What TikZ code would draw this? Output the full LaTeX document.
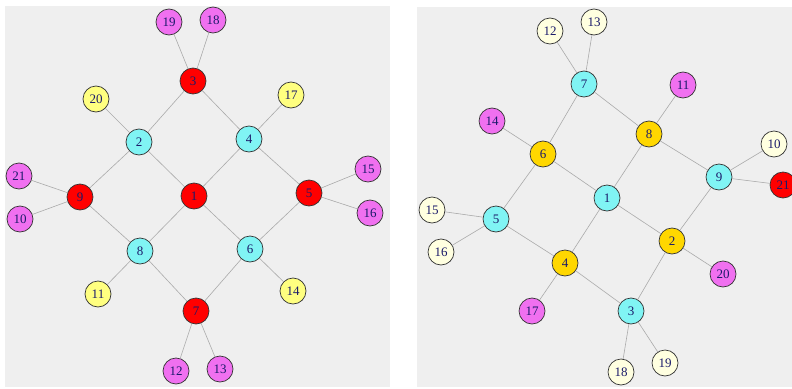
\documentclass[tikz,border=0pt]{standalone}
\usepackage{fontspec}
\setmainfont{Liberation Serif}
\definecolor{bg}{HTML}{EFEFEF}
\definecolor{cred}{HTML}{FF0000}
\definecolor{ccyan}{HTML}{80F4F4}
\definecolor{cmag}{HTML}{F070F0}
\definecolor{cyel}{HTML}{FFFF80}
\definecolor{cgold}{HTML}{FFD700}
\definecolor{civ}{HTML}{FFFFE0}
\definecolor{edgec}{HTML}{AAAAAA}
\definecolor{txt}{HTML}{1A1A6A}
\begin{document}
\begin{tikzpicture}[x=1pt,y=-1pt,
  vert/.style={circle,draw=black!80,line width=0.7pt,minimum size=26pt,inner sep=0pt,text=txt,font=\fontsize{13}{14}\selectfont},
  rd/.style={vert,fill=cred},
  cy/.style={vert,fill=ccyan},
  mg/.style={vert,fill=cmag},
  yl/.style={vert,fill=cyel},
  gd/.style={vert,fill=cgold},
  iv/.style={vert,fill=civ},
  edge/.style={draw=edgec,line width=0.6pt}]
\useasboundingbox (0,0) rectangle (792,388);
\fill[white] (0,0) rectangle (792,388);
\fill[bg] (5,6) rectangle (390,387);
\fill[bg] (417,7) rectangle (792,387);
% left graph
\node[rd] (L1) at (194,196) {1};
\node[cy] (L2) at (139,142) {2};
\node[rd] (L3) at (193,81) {3};
\node[cy] (L4) at (249,139) {4};
\node[rd] (L5) at (309,193) {5};
\node[cy] (L6) at (250,249) {6};
\node[rd] (L7) at (196,311) {7};
\node[cy] (L8) at (140,251) {8};
\node[rd] (L9) at (80,197) {9};
\node[mg] (L10) at (20,219) {10};
\node[yl] (L11) at (98,294) {11};
\node[mg] (L12) at (176,371) {12};
\node[mg] (L13) at (220,369) {13};
\node[yl] (L14) at (293,291) {14};
\node[mg] (L15) at (368,169) {15};
\node[mg] (L16) at (370,213) {16};
\node[yl] (L17) at (291,95) {17};
\node[mg] (L18) at (213,20) {18};
\node[mg] (L19) at (169,22) {19};
\node[yl] (L20) at (96,99) {20};
\node[mg] (L21) at (19,176) {21};
% right graph
\node[cy] (R1) at (607,198) {1};
\node[gd] (R2) at (672,241) {2};
\node[cy] (R3) at (631,311) {3};
\node[gd] (R4) at (565,263) {4};
\node[cy] (R5) at (496,219) {5};
\node[gd] (R6) at (543,154) {6};
\node[cy] (R7) at (584,84) {7};
\node[gd] (R8) at (649,134) {8};
\node[cy] (R9) at (719,177) {9};
\node[iv] (R10) at (774,144) {10};
\node[mg] (R11) at (683,85) {11};
\node[iv] (R12) at (550,31) {12};
\node[iv] (R13) at (594,22) {13};
\node[mg] (R14) at (492,121) {14};
\node[iv] (R15) at (432,210) {15};
\node[iv] (R16) at (441,252) {16};
\node[mg] (R17) at (532,311) {17};
\node[iv] (R18) at (621,372) {18};
\node[iv] (R19) at (665,363) {19};
\node[mg] (R20) at (723,274) {20};
\node[rd] (R21) at (783,185) {21};
% edges
\foreach \a/\b in {1/2,1/4,1/6,1/8,2/3,3/4,4/5,5/6,6/7,7/8,8/9,9/2,3/19,3/18,2/20,4/17,9/21,9/10,5/15,5/16,8/11,6/14,7/12,7/13}
  \draw[edge] (L\a) -- (L\b);
\foreach \a/\b in {7/12,7/13,7/6,7/8,8/11,8/1,8/9,6/14,6/1,6/5,9/10,9/21,9/2,1/4,1/2,5/15,5/16,5/4,4/17,4/3,2/3,2/20,3/18,3/19}
  \draw[edge] (R\a) -- (R\b);
\end{tikzpicture}
\end{document}
